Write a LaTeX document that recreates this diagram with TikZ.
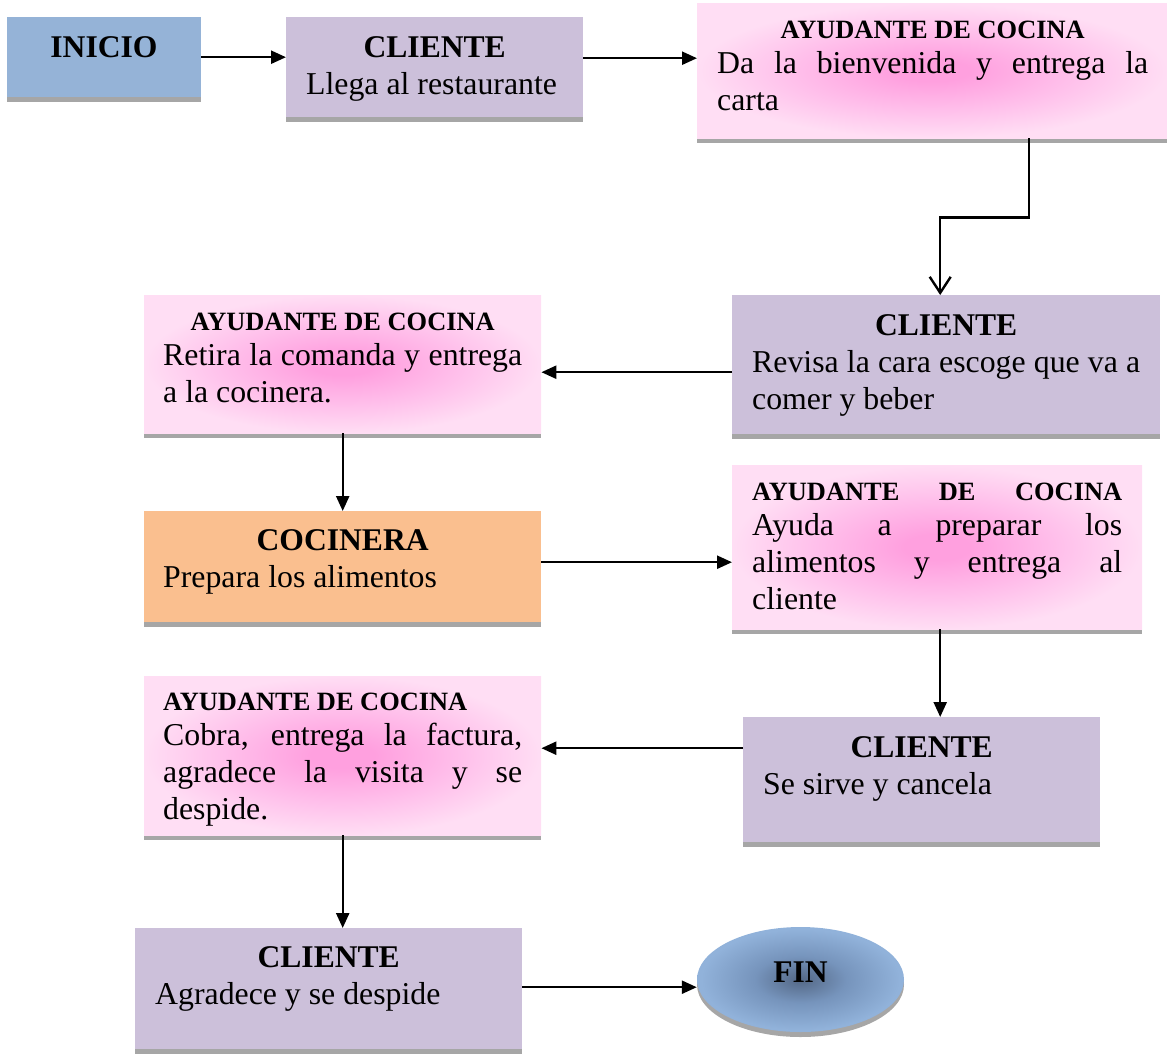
\documentclass[tikz,border=0pt]{standalone}
\usepackage{fontspec}
\setmainfont{Liberation Serif}
\usetikzlibrary{arrows.meta,shadows,shapes.geometric}

\definecolor{inicioblue}{HTML}{95B3D7}
\definecolor{clientlilac}{HTML}{CCC0DA}
\definecolor{cookorange}{HTML}{FABF8F}
\definecolor{bargray}{HTML}{A6A6A6}
\definecolor{pinkout}{RGB}{255,222,244}
\definecolor{pinkmid}{RGB}{255,192,235}
\definecolor{pinkin}{RGB}{255,160,223}
\definecolor{findark}{RGB}{84,104,134}
\definecolor{finmid}{RGB}{118,148,188}
\definecolor{finlight}{RGB}{145,178,218}

% soft magenta glow used by the kitchen-helper boxes
\pgfdeclareradialshading{pinkglow}{\pgfpoint{0bp}{0bp}}{%
  color(0bp)=(pinkin); color(4bp)=(pinkin); color(15bp)=(pinkmid);
  color(25bp)=(pinkout); color(50bp)=(pinkout)}
% dark centre of the end ellipse
\pgfdeclareradialshading{finglow}{\pgfpoint{0bp}{0bp}}{%
  color(0bp)=(findark); color(11bp)=(finmid); color(24bp)=(finlight);
  color(50bp)=(finlight)}

\newcommand\hdbig[1]{{\fontsize{31.6}{37}\selectfont\bfseries #1}}
\newcommand\hdsmall[1]{{\fontsize{26.4}{35}\selectfont\bfseries #1}}

\tikzset{
  card/.style={rectangle, inner sep=0pt, anchor=north west,
    drop shadow={shadow xshift=0pt, shadow yshift=-5pt, fill=bargray, opacity=1}},
  clientcard/.style={card, fill=clientlilac},
  helpercard/.style={card, shade, shading=pinkglow},
  cookcard/.style={card, fill=cookorange},
  startcard/.style={card, fill=inicioblue},
  endcard/.style={ellipse, inner sep=0pt, minimum width=207pt, minimum height=105pt,
    shade, shading=finglow,
    drop shadow={shadow xshift=0pt, shadow yshift=-5pt, fill=bargray, opacity=1}},
  cardtext/.style={inner sep=0pt, anchor=base west, align=justify,
    font=\fontsize{31.8}{37}\selectfont},
  headonly/.style={inner sep=0pt, anchor=base},
  flow/.style={line width=2.4pt, -{Triangle[length=15pt,width=13pt]}},
  flowopen/.style={line width=2.4pt, -{Straight Barb[length=16pt,width=21pt]}},
}

\begin{document}
\begin{tikzpicture}[x=1pt,y=-1pt]
\useasboundingbox (0,0) rectangle (1167,1055);

% ---- boxes ----
\node[startcard, minimum width=194pt, minimum height=80pt] (inicio) at (7,17) {};
\node[clientcard, minimum width=297pt, minimum height=100pt] (cli1) at (286,17) {};
\node[helpercard, minimum width=470pt, minimum height=135pt] (ayu1) at (697,3) {};
\node[clientcard, minimum width=428pt, minimum height=139pt] (cli2) at (732,295) {};
\node[helpercard, minimum width=397pt, minimum height=138pt] (ayu2) at (144,295) {};
\node[cookcard, minimum width=397pt, minimum height=111pt] (coc) at (144,511) {};
\node[helpercard, minimum width=410pt, minimum height=164pt] (ayu3) at (732,465) {};
\node[clientcard, minimum width=357pt, minimum height=125pt] (cli3) at (743,717) {};
\node[helpercard, minimum width=397pt, minimum height=159pt] (ayu4) at (144,676) {};
\node[clientcard, minimum width=387pt, minimum height=121pt] (cli4) at (135,928) {};
\node[endcard] (fin) at (800.5,979.5) {};

% ---- texts ----
\node[headonly] (tinicio) at (104,57) {\hdbig{INICIO}};
\node[cardtext, text width=257pt] (tcli1) at (306,57)
  {\makebox[\linewidth]{\hdbig{CLIENTE}}\par Llega al restaurante};
\node[cardtext, text width=431pt] (tayu1) at (717,38)
  {\makebox[\linewidth]{\hdsmall{AYUDANTE DE COCINA}}\par\vspace{-1.5pt}
   Da la bienvenida y entrega la\linebreak carta};
\node[cardtext, text width=388pt] (tcli2) at (752,335)
  {\makebox[\linewidth]{\hdbig{CLIENTE}}\par Revisa la cara escoge que va a\linebreak comer y beber};
\node[cardtext, text width=359pt] (tayu2) at (163,330)
  {\makebox[\linewidth]{\hdsmall{AYUDANTE DE COCINA}}\par\vspace{-1.5pt}
   Retira la comanda y entrega\linebreak a la cocinera.};
\node[cardtext, text width=359pt] (tcoc) at (163,550)
  {\makebox[\linewidth]{\hdbig{COCINERA}}\par Prepara los alimentos};
\node[cardtext, text width=370pt] (tayu3) at (752,500)
  {\makebox[\linewidth][s]{\hdsmall{AYUDANTE\hfill DE\hfill COCINA}}\par\vspace{-1.5pt}
   Ayuda a preparar los\linebreak alimentos y entrega al\linebreak cliente};
\node[cardtext, text width=317pt] (tcli3) at (763,757)
  {\makebox[\linewidth]{\hdbig{CLIENTE}}\par Se sirve y cancela};
\node[cardtext, text width=359pt] (tayu4) at (163,710)
  {\hdsmall{AYUDANTE DE COCINA}\par\vspace{-1.5pt}
   Cobra, entrega la factura,\linebreak agradece la visita y se\linebreak despide.};
\node[cardtext, text width=347pt] (tcli4) at (155,967)
  {\makebox[\linewidth]{\hdbig{CLIENTE}}\par Agradece y se despide};
\node[headonly] (tfin) at (800.5,982) {\hdbig{FIN}};

% ---- connectors ----
\draw[flow] (inicio.east) -- (inicio.east -| cli1.west);
\draw[flow] ([yshift=9pt]cli1.east) -- ([yshift=9pt]cli1.east -| ayu1.west);
\draw[flowopen] ([xshift=97pt]ayu1.south) -- ++(0,79) -| ([xshift=-6pt]cli2.north);
\draw[flow] ([yshift=-7.5pt]cli2.west) -- ([yshift=-7.5pt]cli2.west -| ayu2.east);
\draw[flow] (ayu2.south) -- (coc.north);
\draw[flow] ([yshift=4.5pt]coc.east) -- ([yshift=4.5pt]coc.east -| ayu3.west);
\draw[flow] ([xshift=3pt]ayu3.south) -- ([xshift=3pt]ayu3.south |- cli3.north);
\draw[flow] ([yshift=31.5pt]cli3.west) -- ([yshift=31.5pt]cli3.west -| ayu4.east);
\draw[flow] (ayu4.south) -- (ayu4.south |- cli4.north);
\draw[flow] ([yshift=1.5pt]cli4.east) -- ([yshift=1.5pt]cli4.east -| fin.west);
\end{tikzpicture}
\end{document}
